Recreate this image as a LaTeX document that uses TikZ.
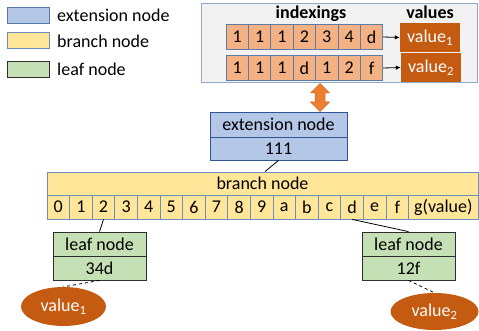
\documentclass[tikz,border=0pt]{standalone}
\usepackage{fontspec}
\setmainfont{Carlito}
\usetikzlibrary{shapes.geometric,arrows.meta}
\definecolor{extfill}{HTML}{B4C7E7}
\definecolor{extline}{HTML}{2F5597}
\definecolor{brfill}{HTML}{FFE699}
\definecolor{brline}{HTML}{6C8EBF}
\definecolor{leaffill}{HTML}{C5E0B4}
\definecolor{leafline}{HTML}{2E2E2E}
\definecolor{cellfill}{HTML}{F4B183}
\definecolor{cellline}{HTML}{5B7DA8}
\definecolor{valfill}{HTML}{C55A11}
\definecolor{arrfill}{HTML}{ED7D31}
\definecolor{panelfill}{HTML}{F2F2F2}
\definecolor{panelline}{HTML}{8EA9CC}
\begin{document}
\begin{tikzpicture}[x=1pt,y=-1pt,
  font=\fontsize{18}{21}\selectfont,
  cellbox/.style={draw, line width=0.8pt, inner sep=0pt, minimum height=#1},
  swatch/.style={draw, line width=0.8pt, minimum width=42pt, minimum height=16pt, inner sep=0pt},
  idx/.style={cellbox=25pt, minimum width=22.4pt, fill=cellfill, draw=cellline},
  brcell/.style={cellbox=24pt, minimum width=22.6pt, fill=brfill, draw=brline},
  extpart/.style={cellbox=#1, minimum width=137pt, fill=extfill, draw=extline},
  leafpart/.style={cellbox=24pt, minimum width=93pt, fill=leaffill, draw=leafline},
  valbox/.style={fill=valfill, text=white, minimum width=60pt, minimum height=29pt, inner sep=0pt},
  valoval/.style={ellipse, fill=valfill, text=white, inner sep=0pt},
  link/.style={line width=0.8pt, draw=black},
  ptr/.style={line width=0.8pt, -{Latex[length=5pt,width=4.5pt]}},
]
\useasboundingbox (0,0) rectangle (479,331);

% legend
\node[swatch, fill=extfill, draw=extline!80] (sw1) at (28,15) {};
\node[anchor=west, inner sep=0pt] (lg1) at (57,15) {extension node};
\node[swatch, fill=brfill, draw=brline] (sw2) at (28,40.5) {};
\node[anchor=west, inner sep=0pt] (lg2) at (57,41.5) {branch node};
\node[swatch, fill=leaffill, draw=leafline] (sw3) at (28,69) {};
\node[anchor=west, inner sep=0pt] (lg3) at (57,69.5) {leaf node};

% key/value store panel
\node[draw=panelline, fill=panelfill, line width=0.8pt, minimum width=276pt, minimum height=79pt, inner sep=0pt] (panel) at (339,42.5) {};
\node[font=\fontsize{18}{21}\selectfont\bfseries, inner sep=0pt] (hidx) at (311,14) {indexings};
\node[font=\fontsize{18}{21}\selectfont\bfseries, inner sep=0pt] (hval) at (430,12) {values};
\foreach \t [count=\i] in {1,1,1,2,3,4,d}
  \node[idx] (ra\i) at ({226+22.4*(\i-0.5)},37) {\t};
\foreach \t [count=\i] in {1,1,1,d,1,2,f}
  \node[idx] (rb\i) at ({226+22.4*(\i-0.5)},68) {\t};
\node[valbox] (v1) at (430,37.5) {value\textsubscript{1}};
\node[valbox] (v2) at (431,67.5) {value\textsubscript{2}};
\draw[ptr] (ra7.east) -- (v1.west);
\draw[ptr] (rb7.east) -- (v2.west);

% two-way arrow between the store and the trie
\filldraw[fill=arrfill, draw=arrfill!85!black, line width=0.5pt]
  (320,83.5) -- (329.5,93) -- (325,93) -- (325,102) -- (329.5,102) -- (320,111.5)
  -- (310.5,102) -- (315,102) -- (315,93) -- (310.5,93) -- cycle;

% extension node
\node[extpart=25pt] (ext1) at (278.5,124.5) {extension node};
\node[extpart=23pt] (ext2) at (278.5,148.5) {111};

% branch node
\node[cellbox=23pt, minimum width=431pt, fill=brfill, draw=brline] (brhead) at (262.5,183.5) {branch node};
\foreach \t [count=\i from 0] in {0,1,2,3,4,5,6,7,8,9,a,b,c,d,e,f}
  \node[brcell] (bc\i) at ({47+22.6*(\i+0.5)},207) {\t};
\node[cellbox=24pt, minimum width=69.4pt, fill=brfill, draw=brline] (bcg) at (443.3,207) {g(value)};
\draw[link] (ext2.south) -- ([xshift=2.5pt]brhead.north);

% leaf nodes
\node[leafpart] (l1a) at (99.5,244) {leaf node};
\node[leafpart] (l1b) at (99.5,268) {34d};
\node[leafpart] (l2a) at (408.5,244) {leaf node};
\node[leafpart] (l2b) at (408.5,268) {12f};
\draw[link] (bc2.south) -- (l1a.north);
\draw[link] (bc13.south) -- (l2a.north);

% stored values
\node[valoval, minimum width=85pt, minimum height=39pt] (e1) at (63.5,306.5) {value\textsubscript{1}};
\node[valoval, minimum width=88pt, minimum height=37pt] (e2) at (434.5,311.5) {value\textsubscript{2}};
\draw[link, dashed] (l1b.south) -- (e1.north);
\draw[link, dashed] (l2b.south) -- (e2.north);
\end{tikzpicture}
\end{document}
